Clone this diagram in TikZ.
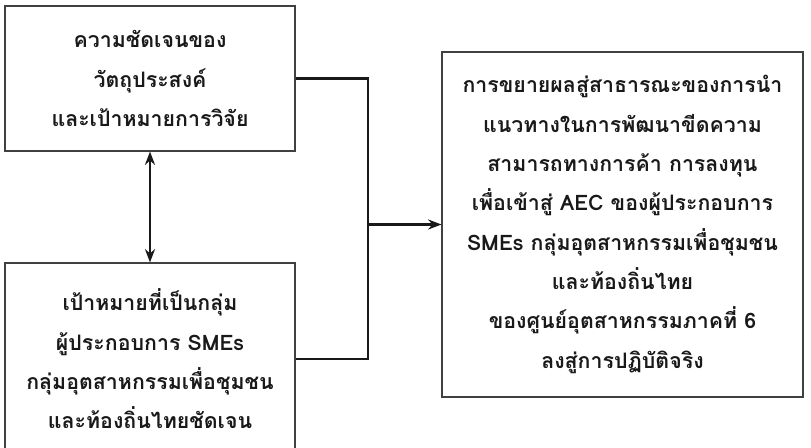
\documentclass[tikz,border=0pt]{standalone}
\usepackage{fontspec}
\newfontfamily\thaifont[Script=Thai]{Loma}
\usetikzlibrary{arrows.meta}
\tikzset{
  box/.style={draw=black!75, line width=0.8pt, align=center, inner sep=0pt,
    text=black!90, font=\thaifont\bfseries\fontsize{16}{29.5}\selectfont},
  link/.style={line width=1.9pt, black!90},
}
\begin{document}
\begin{tikzpicture}[x=0.75pt,y=-0.75pt]
    \useasboundingbox (0,0) rectangle (811,447);
    \node[box, minimum width=217.5pt, minimum height=108.75pt] (aim) at (150,78.5)
      {ความชัดเจนของ\\วัตถุประสงค์\\และเป้าหมายการวิจัย};
    \node[box, minimum width=217.5pt, minimum height=144pt] (target) at (150,359)
      {เป้าหมายที่เป็นกลุ่ม\\ผู้ประกอบการ SMEs\\กลุ่มอุตสาหกรรมเพื่อชุมชน\\และท้องถิ่นไทยชัดเจน};
    \node[box, minimum width=270.75pt, minimum height=258.75pt] (result) at (622.5,224.5)
      {การขยายผลสู่สาธารณะของการนำ\\แนวทางในการพัฒนาขีดความ\\สามารถทางการค้า การลงทุน\\เพื่อเข้าสู่ AEC ของผู้ประกอบการ\\SMEs กลุ่มอุตสาหกรรมเพื่อชุมชน\\และท้องถิ่นไทย\\ของศูนย์อุตสาหกรรมภาคที่ 6\\ลงสู่การปฏิบัติจริง};
    \coordinate (join) at (368,224.5);

    \draw[link] (aim.east) -| (join) |- (target.east);
    \draw[link, -{Stealth[length=10pt,width=7.5pt]}] (join) -- (result.west);
    \draw[link, {Stealth[length=10pt,width=7.5pt]}-{Stealth[length=10pt,width=7.5pt]}] (aim.south) -- (target.north);
\end{tikzpicture}
\end{document}
